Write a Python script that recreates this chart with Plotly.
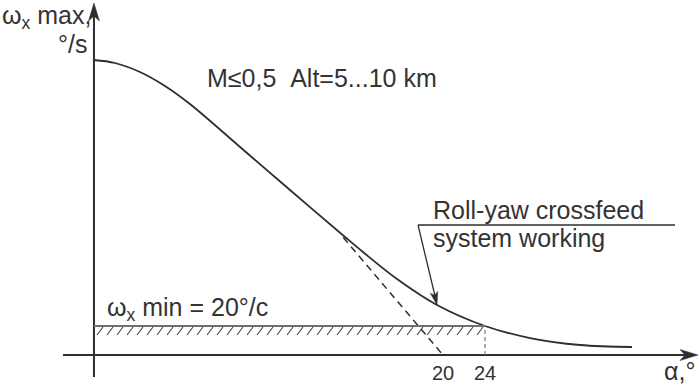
import math
import plotly.graph_objects as go

# ---------------- data ----------------
alpha_curve = [-13.24, -11.24, -8.86, -6.48, -4.10, 0.67, 5.43, 10.67, 12.38, 15.62, 19.43, 24.0, 28.29, 33.05, 38.0]
omega_curve = [203.45, 201.38, 195.17, 185.52, 173.10, 143.45, 113.79, 81.38, 71.03, 52.41, 34.48, 20.0, 11.72, 6.90, 5.52]

tangent_alpha = [10.5, 20.0]
tangent_omega = [81.0, 0.0]

omega_min = 20.0
alpha_at_min = 24.0
alpha_axis_start = -13.24

tick_values = [20, 24]
tick_labels = ["20", "24"]

pointer_alpha = 19.43
pointer_omega = 34.48

# ---------------- geometry helpers (styling only) ----------------
W, H = 700, 388
MB = 33
PH = H - MB
XR = [-22.19, 44.476]
YR = [0.0, 244.83]
px_per_a = W / (XR[1] - XR[0])
px_per_w = PH / (YR[1] - YR[0])

def a_of(px):
    return XR[0] + px / px_per_a

def w_of(py):
    return YR[1] - py / px_per_w

def px_of(a):
    return (a - XR[0]) * px_per_a

def py_of(w):
    return (YR[1] - w) * px_per_w

def py_paper(py):
    return 1 - py / PH

def P(px, py):
    return px / W, py_paper(py)

INK = "#2e2e2e"
TXT = "#333333"
FONT = "Liberation Sans, Arial, sans-serif"

fig = go.Figure()

# main curve
fig.add_trace(go.Scatter(x=alpha_curve, y=omega_curve, mode="lines",
                         line=dict(color=INK, width=1.8, shape="spline", smoothing=1.0),
                         hoverinfo="skip", showlegend=False))
# dashed tangent
fig.add_trace(go.Scatter(x=tangent_alpha, y=tangent_omega, mode="lines",
                         line=dict(color=INK, width=1.5, dash="7px,5px"),
                         hoverinfo="skip", showlegend=False))

shapes = []

def pline(x0, y0, x1, y1, width, color=INK):
    a0, b0 = P(x0, y0)
    a1, b1 = P(x1, y1)
    shapes.append(dict(type="line", xref="paper", yref="paper", x0=a0, y0=b0, x1=a1, y1=b1,
                       line=dict(color=color, width=width)))

def arrow_head(tx, ty, fx, fy, length, half, notch):
    # tip at (tx,ty), direction from (fx,fy)
    dx, dy = tx - fx, ty - fy
    n = math.hypot(dx, dy)
    ux, uy = dx / n, dy / n
    vx, vy = -uy, ux
    pts = [(tx, ty),
           (tx - ux * length + vx * half, ty - uy * length + vy * half),
           (tx - ux * notch, ty - uy * notch),
           (tx - ux * length - vx * half, ty - uy * length - vy * half)]
    path = "M " + " L ".join("%f,%f" % P(x, y) for x, y in pts) + " Z"
    shapes.append(dict(type="path", xref="paper", yref="paper", path=path,
                       fillcolor=INK, line=dict(color=INK, width=0.5)))

# axes
ax_x = px_of(alpha_axis_start)
ax_y = py_of(0)
pline(ax_x, 377, ax_x, 12, 2)
arrow_head(ax_x, 3, ax_x, 377, 18, 5.5, 13)
pline(63, ax_y, 688, ax_y, 2)
arrow_head(698, ax_y, 63, ax_y, 18, 5.5, 13)

# omega_min line
shapes.append(dict(type="line", x0=alpha_axis_start, x1=alpha_at_min, y0=omega_min, y1=omega_min,
                   line=dict(color="#707070", width=2)))
# hatching below the line
hx = 97
while hx < 481:
    shapes.append(dict(type="line", x0=a_of(hx), x1=a_of(hx + 6),
                       y0=omega_min - 9 / px_per_w, y1=omega_min - 1 / px_per_w,
                       line=dict(color="#444444", width=1.1)))
    hx += 10
# dotted vertical at alpha = 24
shapes.append(dict(type="line", x0=alpha_at_min, x1=alpha_at_min, y0=0, y1=omega_min,
                   line=dict(color="#808080", width=1.3, dash="4px,3px")))
# underline of the callout and pointer
pline(418, 225, 675, 225, 1.5)
tip_x, tip_y = px_of(pointer_alpha), py_of(pointer_omega)
pline(418, 225, tip_x - 0.2 * 4, tip_y - 1 * 4, 1.3)
arrow_head(tip_x, tip_y, 418, 225, 13, 3.8, 10)

annotations = []

def label(text, px, py, anchor="left", size=25, yanchor="middle"):
    annotations.append(dict(x=px / W, y=py_paper(py), xref="paper", yref="paper",
                            text=text, showarrow=False, xanchor=anchor, yanchor=yanchor,
                            font=dict(family=FONT, size=size, color=TXT)))

label("ω<sub>x</sub> max,", 0, 17)
label("°/s", 89, 44, anchor="right")
label("M≤0,5&nbsp;&nbsp;Alt=5...10 km", 205, 78)
label("Roll-yaw crossfeed", 431, 210)
label("system working", 431, 238)
label("ω<sub>x</sub> min = 20°/c", 105, 309)
label("α,°", 697, 387, anchor="right", yanchor="bottom")

fig.update_layout(
    width=W, height=H,
    margin=dict(l=0, r=0, t=0, b=MB),
    paper_bgcolor="white", plot_bgcolor="white",
    shapes=shapes, annotations=annotations,
    xaxis=dict(range=XR, showgrid=False, zeroline=False, showline=False,
               tickvals=tick_values, ticktext=tick_labels, ticks="",
               ticklabelstandoff=4,
               tickfont=dict(family=FONT, size=20, color=TXT)),
    yaxis=dict(range=YR, visible=False),
    showlegend=False,
)

fig.write_html("out.html")
